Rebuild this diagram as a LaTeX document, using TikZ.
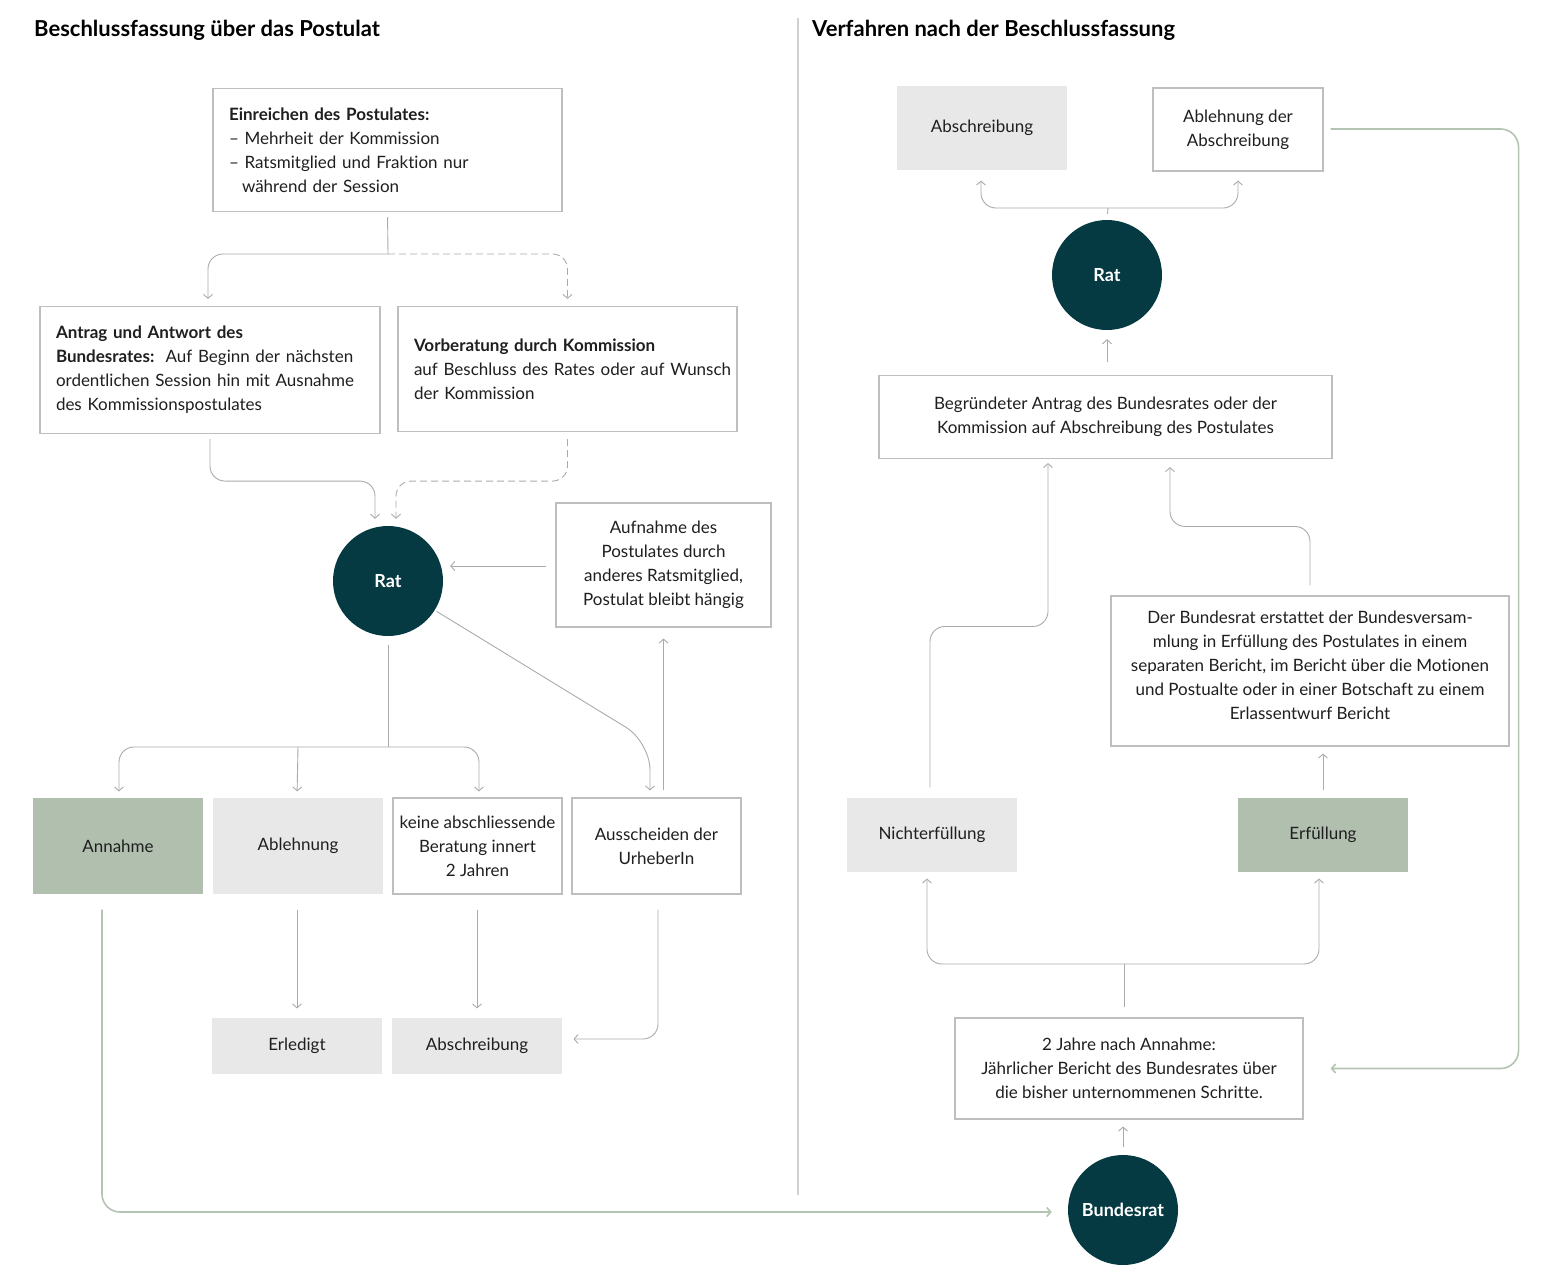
\documentclass[tikz,border=0pt]{standalone}
\usepackage{fontspec}
\setmainfont{Lato}[Ligatures={NoCommon}]
\usetikzlibrary{positioning,arrows.meta}

\definecolor{ratteal}{RGB}{5,58,66}
\definecolor{sage}{RGB}{176,191,174}
\definecolor{fillgrey}{RGB}{232,232,232}
\definecolor{linegrey}{RGB}{170,170,170}
\definecolor{boxgrey}{RGB}{190,190,190}
\definecolor{greenline}{RGB}{180,196,178}

\newcommand{\bodyfont}{\fontsize{17}{24}\selectfont}
\newcommand{\headfont}{\fontsize{22}{24}\selectfont\bfseries}

\begin{document}
\begin{tikzpicture}[x=1pt, y=-1pt,
    >={Straight Barb[length=4pt,width=9pt]},
    box/.style={rectangle, draw=boxgrey, line width=1.1pt, fill=white, inner sep=0pt,
        align=center, font=\bodyfont, text=black!88},
    leftbox/.style={box, align=left, inner xsep=16pt},
    greybox/.style={box, draw=none, fill=fillgrey},
    greenbox/.style={box, draw=none, fill=sage},
    council/.style={circle, fill=ratteal, minimum size=110pt, inner sep=0pt,
        font=\fontsize{18}{20}\selectfont\bfseries, text=white},
    conn/.style={draw=linegrey, line width=0.9pt, rounded corners=15pt},
    dashconn/.style={conn, dash pattern=on 7pt off 4pt},
    greenconn/.style={draw=greenline, line width=1.6pt, rounded corners=18pt}
]
\useasboundingbox (0,0) rectangle (1567,1283);

% titles and divider
\node[anchor=base west, inner sep=0pt, font=\headfont] (title1) at (34,36) {Beschlussfassung über das Postulat};
\node[anchor=base west, inner sep=0pt, font=\headfont] (title2) at (812,36) {Verfahren nach der Beschlussfassung};
\draw[draw=black!18, line width=1.2pt] (798,18) -- (798,1195);

% left part: Beschlussfassung
\node (einr) [leftbox, text width=317pt, minimum height=123pt] at (387.5,150)
    {\textbf{Einreichen des Postulates:}\\
     – Mehrheit der Kommission\\
     – Ratsmitglied und Fraktion nur\\
     \hspace*{13pt}während der Session};
\node (antrag) [leftbox, text width=308pt, minimum height=127pt] at (210,370)
    {\textbf{Antrag und Antwort des}\\
     \textbf{Bundesrates:}\ \ Auf Beginn der nächsten\\
     ordentlichen Session hin mit Ausnahme\\
     des Kommissionspostulates};
\node (vorb) [leftbox, text width=307pt, minimum height=125pt] at (567.5,369)
    {\textbf{Vorberatung durch Kommission}\\
     \mbox{auf Beschluss des Rates oder auf Wunsch}\\
     der Kommission};
\node (rat) [council] at (388,581) {Rat};
\node (aufn) [box, minimum width=215pt, minimum height=124pt] at (663.5,565)
    {Aufnahme des\\ Postulates durch\\ anderes Ratsmitglied,\\ Postulat bleibt hängig};
\node (annahme) [greenbox, minimum width=170pt, minimum height=96pt] at (118,846) {Annahme};
\node (ablehnung) [greybox, minimum width=170pt, minimum height=96pt] at (298,846) {Ablehnung};
\node (keine) [box, minimum width=169pt, minimum height=96pt] at (477.5,846)
    {keine abschliessende\\ Beratung innert\\ 2 Jahren};
\node (ausch) [box, minimum width=169pt, minimum height=96pt] at (656.5,846)
    {Ausscheiden der\\ UrheberIn};
\node (erledigt) [greybox, minimum width=170pt, minimum height=56pt] at (297,1046) {Erledigt};
\node (abschr1) [greybox, minimum width=170pt, minimum height=56pt] at (477,1046) {Abschreibung};

% right part: Verfahren
\node (bundesrat) [council] at (1123,1210) {Bundesrat};
\node (bericht) [box, minimum width=348pt, minimum height=101pt] at (1129,1068.5)
    {2 Jahre nach Annahme:\\ Jährlicher Bericht des Bundesrates über\\ die bisher unternommenen Schritte.};
\node (nichterf) [greybox, minimum width=170pt, minimum height=74pt] at (932,835) {Nichterfüllung};
\node (erf) [greenbox, minimum width=170pt, minimum height=74pt] at (1323,835) {Erfüllung};
\node (derbr) [box, minimum width=398pt, minimum height=150pt] at (1310,671)
    {Der Bundesrat erstattet der Bundesversam-\\ mlung in Erfüllung des Postulates in einem\\
     separaten Bericht, im Bericht über die Motionen\\ und Postualte oder in einer Botschaft zu einem\\
     Erlassentwurf Bericht\\[-13pt]};
\node (begr) [box, minimum width=453pt, minimum height=83pt] at (1105.5,417)
    {Begründeter Antrag des Bundesrates oder der\\ Kommission auf Abschreibung des Postulates};
\node (rat2) [council] at (1107,275) {Rat};
\node (abschr2) [greybox, minimum width=170pt, minimum height=84pt] at (982,128) {Abschreibung};
\node (ablderab) [box, minimum width=170pt, minimum height=83pt] at (1238,129.5)
    {Ablehnung der\\ Abschreibung};

% connectors, left
\coordinate (split1) at (388,254);
\coordinate (split2) at (388,747);
\coordinate (bend) at (650,742);
\draw[conn, shorten <=5pt] (einr.south) -- (split1);
\draw[conn, ->, shorten >=7pt] (split1) -| ([xshift=-2pt]antrag.north);
\draw[dashconn, ->, shorten >=7pt] (split1) -| (vorb.north);
\draw[conn, ->, shorten <=5pt, shorten >=7pt] (antrag.south) -- ++(0,47) -| ([xshift=-13pt]rat.north);
\draw[dashconn, ->, shorten <=7pt, shorten >=7pt] (vorb.south) -- ++(0,49) -| ([xshift=8pt]rat.north);
\draw[conn, ->, shorten <=9pt, shorten >=7pt] ([yshift=-1pt]aufn.west) -- ([yshift=-1pt]rat.east |- aufn.west);
\draw[conn, ->, rounded corners=28pt, shorten <=2pt, shorten >=7pt] (rat.-32) -- (bend) -- ([xshift=-6.5pt]ausch.north);
\draw[conn, ->, shorten <=7pt, shorten >=11pt] (ausch.north -| aufn.south) -- (aufn.south);
\draw[conn, shorten <=9pt] (rat.south) -- (split2);
\draw[conn, ->, shorten >=6pt] (split2) -| ([xshift=1pt]annahme.north);
\draw[conn, ->, shorten >=6pt] (ablehnung.north |- split2) -- ([xshift=-1pt]ablehnung.north);
\draw[conn, ->, shorten >=6pt] (split2) -| ([xshift=1.5pt]keine.north);
\draw[conn, ->, shorten <=15pt, shorten >=9pt] ([xshift=-1pt]ablehnung.south) -- (erledigt.north);
\draw[conn, ->, shorten <=15pt, shorten >=9pt] ([xshift=-0.5pt]keine.south) -- (abschr1.north);
\draw[conn, ->, shorten <=15pt, shorten >=11pt] ([xshift=1.5pt]ausch.south) |- ([yshift=7pt]abschr1.east);
\draw[greenconn, ->, shorten <=15pt, shorten >=16pt] ([xshift=-16pt]annahme.south) |- ([yshift=-2pt]bundesrat.west);

% connectors, right
\coordinate (split3) at (1124,964);
\coordinate (split4) at (1108,208);
\draw[conn, ->, shorten <=8pt, shorten >=7pt] (bundesrat.north) -- (bundesrat.north |- bericht.south);
\draw[conn, shorten <=10pt] (split3 |- bericht.north) -- (split3);
\draw[conn, ->, shorten >=6pt] (split3) -| ([xshift=-5pt]nichterf.south);
\draw[conn, ->, shorten >=6pt] (split3) -| ([xshift=-4pt]erf.south);
\draw[conn, ->, shorten <=10pt, shorten >=4pt] ([xshift=-2pt]nichterf.north) -- ++(0,-171) -| ([xshift=-57.5pt]begr.south);
\draw[conn, ->, shorten <=7pt, shorten >=7pt] (erf.north) -- (erf.north |- derbr.south);
\draw[conn, ->, shorten <=10pt, shorten >=8pt] (derbr.north) -- ++(0,-69) -| ([xshift=64.5pt]begr.south);
\draw[conn, ->, shorten <=13pt, shorten >=9pt] (rat2.south |- begr.north) -- (rat2.south);
\draw[conn, shorten <=6pt] (rat2.north) -- (split4);
\draw[conn, ->, shorten >=10pt] (split4) -| ([xshift=-1pt]abschr2.south);
\draw[conn, ->, shorten >=9pt] (split4) -| (ablderab.south);
\draw[greenconn, ->, shorten <=7pt, shorten >=27pt] ([yshift=0.5pt]ablderab.east) -- ++(195,0) |- (bericht.east);
\end{tikzpicture}
\end{document}
